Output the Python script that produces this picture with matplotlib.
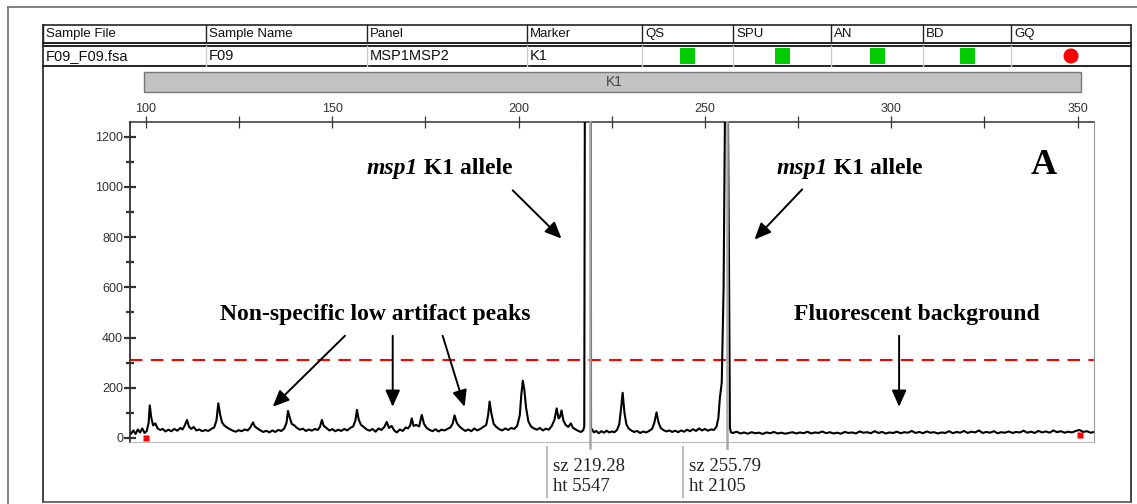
import numpy as np
import matplotlib.pyplot as plt
import matplotlib.transforms as mtransforms
from matplotlib.patches import Rectangle, Circle

plt.rcParams['font.family'] = ['Liberation Sans', 'DejaVu Sans']

# -----------------------------
# Data
# -----------------------------

header_cols = ['Sample File', 'Sample Name', 'Panel', 'Marker', 'QS', 'SPU', 'AN', 'BD', 'GQ']
row_values = ['F09_F09.fsa', 'F09', 'MSP1MSP2', 'K1', '', '', '', '', '']
quality_flags = ['pass', 'pass', 'pass', 'pass', 'fail']   # QS, SPU, AN, BD, GQ
marker_name = 'K1'

x_ticks = [100, 150, 200, 250, 300, 350]
y_ticks = [0, 200, 400, 600, 800, 1000, 1200]

threshold_rfu = 310

allele_sz = [219.28, 255.79]
allele_ht = [5547, 2105]

# size-standard marks (red)
marker_bp = [99.9, 350.6]
marker_rfu = [0, 12]

# trace vertices (size in bp, height in RFU)
trace_left = [
    (96.0, 18), (96.6, 30), (97.2, 16), (97.8, 34), (98.4, 22), (99.0, 38), (99.6, 20),
    (100.2, 28), (100.7, 60), (101.0, 130), (101.4, 82), (101.9, 50), (102.5, 58),
    (103.1, 38), (103.8, 32), (104.5, 36), (105.2, 26), (106.0, 33), (106.8, 27),
    (107.6, 36), (108.4, 29), (109.2, 40), (109.8, 34), (110.4, 50), (111.0, 72),
    (111.5, 46), (112.1, 36), (112.8, 44), (113.5, 30), (114.3, 34), (115.1, 27),
    (115.9, 32), (116.7, 28), (117.5, 36), (118.3, 42), (118.9, 70), (119.4, 138),
    (119.9, 92), (120.4, 62), (121.0, 50), (121.7, 42), (122.5, 35), (123.3, 29),
    (124.1, 25), (124.9, 31), (125.7, 27), (126.5, 34), (127.3, 30), (128.0, 42),
    (128.7, 62), (129.2, 46), (129.9, 38), (130.7, 30), (131.5, 24), (132.3, 29),
    (133.1, 22), (133.9, 30), (134.7, 24), (135.5, 32), (136.3, 28), (137.1, 38),
    (137.7, 60), (138.1, 108), (138.6, 80), (139.1, 56), (139.8, 50), (140.5, 40),
    (141.3, 33), (142.1, 37), (142.9, 28), (143.7, 34), (144.5, 29), (145.3, 36),
    (146.1, 32), (146.7, 45), (147.2, 72), (147.7, 48), (148.4, 40), (149.2, 30),
    (150.0, 35), (150.8, 27), (151.6, 33), (152.4, 28), (153.2, 36), (154.0, 30),
    (154.8, 40), (155.6, 46), (156.2, 70), (156.6, 112), (157.1, 72), (157.7, 52),
    (158.4, 44), (159.2, 34), (160.0, 29), (160.8, 36), (161.6, 25), (162.4, 38),
    (163.2, 32), (164.0, 45), (164.6, 64), (165.2, 40), (165.9, 48), (166.6, 30),
    (167.3, 22), (168.1, 34), (168.9, 28), (169.7, 42), (170.3, 38), (170.9, 50),
    (171.3, 78), (171.8, 48), (172.5, 52), (173.3, 46), (174.0, 92), (174.6, 56),
    (175.3, 40), (176.1, 32), (176.9, 27), (177.7, 35), (178.5, 26), (179.3, 33),
    (180.1, 30), (180.9, 36), (181.7, 42), (182.3, 58), (182.8, 90), (183.4, 60),
    (184.1, 46), (184.9, 36), (185.7, 28), (186.5, 34), (187.3, 27), (188.1, 38),
    (188.9, 30), (189.7, 36), (190.5, 44), (191.3, 52), (191.8, 90), (192.2, 145),
    (192.7, 96), (193.3, 56), (194.0, 44), (194.8, 35), (195.6, 30), (196.4, 38),
    (197.2, 32), (198.0, 40), (198.8, 36), (199.6, 48), (200.3, 90), (200.7, 170),
    (201.1, 228), (201.5, 195), (202.0, 120), (202.6, 66), (203.3, 46), (204.1, 38),
    (204.9, 33), (205.7, 40), (206.5, 30), (207.3, 37), (208.1, 33), (208.9, 48),
    (209.6, 72), (210.2, 118), (210.7, 78), (211.1, 84), (211.5, 110), (212.0, 70),
    (212.6, 52), (213.3, 44), (214.0, 58), (214.6, 40), (215.3, 34), (216.0, 28),
    (216.7, 24), (217.3, 30), (217.6, 45),
]
trace_allele1 = [(217.9, 2400), (219.28, 5547), (219.42, 40)]
trace_mid = [
    (220.2, 22), (220.8, 28), (221.5, 19), (222.2, 27), (222.9, 21), (223.6, 29),
    (224.3, 22), (225.0, 26), (225.7, 23), (226.4, 32), (227.0, 55), (227.5, 120),
    (227.9, 180), (228.4, 100), (228.9, 55), (229.5, 38), (230.2, 30), (231.0, 24),
    (231.8, 28), (232.6, 20), (233.4, 26), (234.2, 22), (235.0, 28), (235.8, 36),
    (236.4, 60), (237.0, 102), (237.5, 64), (238.1, 40), (238.8, 32), (239.6, 26),
    (240.4, 30), (241.2, 24), (242.0, 29), (242.8, 23), (243.6, 30), (244.4, 25),
    (245.2, 33), (246.0, 27), (246.8, 35), (247.6, 28), (248.4, 38), (249.2, 30),
    (250.0, 36), (250.8, 29), (251.6, 34), (252.4, 32), (253.1, 45), (253.6, 80),
    (254.0, 160), (254.5, 220), (255.0, 600),
]
trace_allele2 = [(255.79, 2105), (256.45, 700), (256.7, 40), (257.0, 22)]
trace_right = [
    (257.5, 20), (258.5, 25), (259.5, 18), (260.5, 22), (261.5, 17), (262.5, 23),
    (263.5, 19), (264.5, 21), (265.5, 16), (266.5, 22), (267.5, 19), (268.5, 24),
    (269.5, 18), (270.5, 21), (271.5, 17), (272.5, 20), (273.5, 23), (274.5, 18),
    (275.5, 22), (276.5, 19), (277.5, 25), (278.5, 18), (279.5, 22), (280.5, 20),
    (281.5, 26), (282.5, 19), (283.5, 23), (284.5, 18), (285.5, 21), (286.5, 17),
    (287.5, 24), (288.5, 20), (289.5, 22), (290.5, 18), (291.5, 26), (292.5, 21),
    (293.5, 23), (294.5, 19), (295.5, 27), (296.5, 20), (297.5, 24), (298.5, 18),
    (299.5, 22), (300.5, 20), (301.5, 25), (302.5, 19), (303.5, 23), (304.5, 21),
    (305.5, 28), (306.5, 20), (307.5, 24), (308.5, 19), (309.5, 26), (310.5, 21),
    (311.5, 23), (312.5, 18), (313.5, 22), (314.5, 20), (315.5, 27), (316.5, 19),
    (317.5, 24), (318.5, 21), (319.5, 28), (320.5, 20), (321.5, 25), (322.5, 22),
    (323.5, 30), (324.5, 20), (325.5, 24), (326.5, 21), (327.5, 27), (328.5, 19),
    (329.5, 23), (330.5, 21), (331.5, 26), (332.5, 20), (333.5, 24), (334.5, 22),
    (335.5, 29), (336.5, 21), (337.5, 25), (338.5, 20), (339.5, 28), (340.5, 22),
    (341.5, 26), (342.5, 21), (343.5, 30), (344.5, 23), (345.5, 27), (346.5, 21),
    (347.5, 25), (348.5, 22), (349.5, 28), (350.5, 32), (351.5, 24), (352.5, 27),
    (353.5, 21), (354.5, 24),
]

trace = trace_left + trace_allele1 + trace_mid + trace_allele2 + trace_right
trace_bp = [p[0] for p in trace]
trace_rfu = [p[1] for p in trace]

# -----------------------------
# Figure, overlay in pixel units
# -----------------------------

W, H = 1137, 504
fig = plt.figure(figsize=(W / 100, H / 100), dpi=100)

ov = fig.add_axes([0, 0, 1, 1])
ov.set_xlim(0, W)
ov.set_ylim(H, 0)
ov.axis('off')

# outer frame
ov.plot([8, 8], [7, H], color='#777777', lw=1.3)
ov.plot([8, W], [7, 7], color='#777777', lw=1.3)

# table
col_x = [43, 206, 367, 527, 642, 733, 831, 923, 1011, 1131]
ov.plot([43, 1131], [25, 25], color='#222222', lw=1.2)
ov.plot([43, 1131], [42.5, 42.5], color='#222222', lw=1.4)
ov.plot([43, 1131], [46, 46], color='#222222', lw=1.4)
ov.plot([43, 1131], [65.5, 65.5], color='#222222', lw=1.4)
for i, name in enumerate(header_cols):
    ov.plot([col_x[i], col_x[i]], [25, 42.5], color='#222222', lw=1.0)
    ov.text(col_x[i] + 3, 34, name, fontsize=9.5, va='center', ha='left', color='#111111')
    if i > 0:
        ov.plot([col_x[i], col_x[i]], [46, 65.5], color='#cccccc', lw=1.0)
    if row_values[i]:
        ov.text(col_x[i] + 3, 56.5, row_values[i], fontsize=10.5, va='center', ha='left', color='#111111')

for k, flag in enumerate(quality_flags):
    cx = (col_x[4 + k] + col_x[5 + k]) / 2
    if flag == 'pass':
        ov.add_patch(Rectangle((cx - 7.5, 48), 15, 16, facecolor='#00cc00', edgecolor='none'))
    else:
        ov.add_patch(Circle((cx, 56), 7.5, facecolor='#ff0000', edgecolor='none'))

# panel box
ov.plot([43, 43], [25, 502], color='#222222', lw=1.2)
ov.plot([1131, 1131], [25, 502], color='#222222', lw=1.2)
ov.plot([43, 1131], [502, 502], color='#555555', lw=1.2)

# marker bin bar
ov.add_patch(Rectangle((144, 72), 937, 20, facecolor='#c3c3c3', edgecolor='#777777', lw=1.0))
ov.text(614, 82.5, marker_name, fontsize=10, ha='center', va='center', color='#444444')

# -----------------------------
# Electropherogram axes
# -----------------------------

ax = fig.add_axes([130 / W, (H - 442) / H, (1094 - 130) / W, (442 - 122) / H])
ax.set_facecolor('none')
ax.set_xlim(95.7, 354.4)
ax.set_ylim(-16, 1258)

ax.xaxis.tick_top()
ax.set_xticks(x_ticks)
ax.set_xticks([t + 25 for t in x_ticks[:-1]], minor=True)
ax.tick_params(axis='x', which='both', direction='inout', length=8, width=0.9,
               colors='#333333', labelsize=9, pad=1, top=True, bottom=False)
ax.set_yticks(y_ticks)
ax.set_yticks([t + 100 for t in y_ticks[:-1]], minor=True)
ax.tick_params(axis='y', which='major', direction='inout', length=8, width=1.6,
               colors='#333333', labelsize=9, pad=1)
ax.tick_params(axis='y', which='minor', direction='inout', length=6, width=1.6, colors='#333333')

ax.spines['left'].set_color('#333333')
ax.spines['left'].set_linewidth(1.3)
ax.spines['top'].set_color('#333333')
ax.spines['top'].set_linewidth(1.1)
ax.spines['right'].set_color('#999999')
ax.spines['bottom'].set_color('#bbbbbb')

ax.axhline(threshold_rfu, color='red', lw=1.5, ls=(0, (6, 4)), zorder=2)
ax.plot(trace_bp, trace_rfu, color='black', lw=1.5, zorder=3)
ax.plot(marker_bp, marker_rfu, 's', color='red', ms=4, mec='none', zorder=4, clip_on=False)

# allele call lines, drawn over the trace
below = mtransforms.blended_transform_factory(ax.transData, ax.transAxes)
for sz in allele_sz:
    ax.plot([sz, sz], [-0.02, 1], transform=below, color='#a8a8a8', lw=1.8,
            clip_on=False, zorder=3.5)

# size / height call boxes under the plot
info = mtransforms.blended_transform_factory(ax.transData, ov.transData)
for sz, ht in zip(allele_sz, allele_ht):
    ax.plot([sz - 11.6, sz - 11.6], [447, 497], transform=info, color='#bbbbbb', lw=1.4, clip_on=False)
    ax.text(sz - 10.1, 471, f'sz {sz:.2f}', transform=info, fontsize=13.5,
            family='Liberation Serif', va='baseline', ha='left', color='#222222')
    ax.text(sz - 10.1, 491, f'ht {ht}', transform=info, fontsize=13.5,
            family='Liberation Serif', va='baseline', ha='left', color='#222222')

# annotations
serif = dict(family='Liberation Serif', weight='bold', color='black')
for anchor in [172.9, 283.1]:
    ax.text(anchor, 1050, 'msp1', ha='right', va='baseline', fontsize=17, style='italic', **serif)
    ax.text(anchor, 1050, ' K1 allele', ha='left', va='baseline', fontsize=17, **serif)
ax.text(341.0, 1050, 'A', ha='center', va='baseline', fontsize=26, **serif)
ax.text(161.4, 471, 'Non-specific low artifact peaks', ha='center', va='baseline', fontsize=17, **serif)
ax.text(307.0, 471, 'Fluorescent background', ha='center', va='baseline', fontsize=17, **serif)

arrows = [
    ((198.4, 986), (211.5, 794)),
    ((276.1, 990), (263.3, 790)),
    ((153.4, 407), (134.0, 124)),
    ((166.2, 407), (166.2, 124)),
    ((179.6, 407), (185.5, 124)),
    ((302.1, 407), (302.1, 124)),
]
for tail, tip in arrows:
    ax.annotate('', xy=tip, xytext=tail,
                arrowprops=dict(arrowstyle='-|>,head_length=0.5,head_width=0.22',
                                color='black', lw=1.4, mutation_scale=20,
                                shrinkA=0, shrinkB=0))

fig.savefig('out.png', dpi=100)
